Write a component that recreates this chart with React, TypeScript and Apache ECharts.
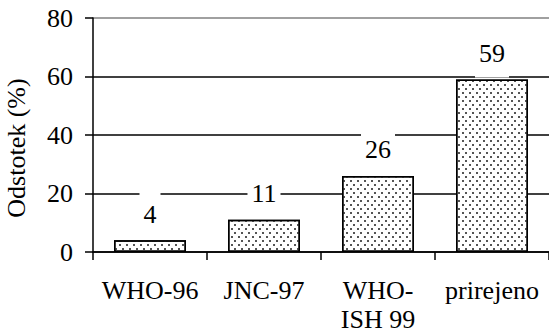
import React, { useEffect, useRef } from "react";
import * as echarts from "echarts";

const categories = ["WHO-96", "JNC-97", "WHO-\nISH 99", "prirejeno"];
const values = [4, 11, 26, 59];
const yTicks = { min: 0, max: 80, interval: 20 };
const yAxisName = "Odstotek (%)";

const FONT = "Liberation Serif";
const FS = 26;

export default function App() {
  const ref = useRef<HTMLDivElement>(null);
  useEffect(() => {
    if (!ref.current) return;
    const chart = echarts.init(ref.current, null, { renderer: "svg" });
    chart.setOption({
      animation: false,
      backgroundColor: "#fff",
      textStyle: { fontFamily: FONT, color: "#000" },
      grid: {
        left: 93,
        right: 0,
        top: 18,
        bottom: 82,
        containLabel: false,
        outerBoundsMode: "none",
      },
      xAxis: {
        type: "category",
        data: categories,
        boundaryGap: true,
        axisLine: { show: true, lineStyle: { color: "#000", width: 1.5 } },
        axisTick: { show: true, length: 8, inside: false, lineStyle: { color: "#000", width: 1.5 } },
        axisLabel: {
          interval: 0,
          margin: 24,
          fontFamily: FONT,
          fontSize: FS,
          lineHeight: 29,
          color: "#000",
        },
        splitLine: { show: false },
      },
      yAxis: {
        type: "value",
        min: yTicks.min,
        max: yTicks.max,
        interval: yTicks.interval,
        name: yAxisName,
        nameLocation: "middle",
        nameGap: 64,
        nameTextStyle: { fontFamily: FONT, fontSize: FS, color: "#000", padding: [0, 26, 0, 0] },
        axisLine: { show: true, lineStyle: { color: "#000", width: 1.5 } },
        axisTick: { show: true, length: 8, inside: false, lineStyle: { color: "#000", width: 1.5 } },
        axisLabel: { margin: 20, fontFamily: FONT, fontSize: FS, color: "#000" },
        splitLine: {
          show: true,
          lineStyle: { color: ["#000", "#000", "#000", "#000", "#808080"], width: 1.5 },
        },
      },
      series: [
        {
          type: "bar",
          data: values,
          barWidth: 72,
          itemStyle: {
            color: "#fff",
            borderColor: "#000",
            borderWidth: 1.5,
            decal: {
              symbol: "rect",
              symbolSize: 1,
              color: "#555",
              dashArrayX: [[1.5, 4.5], [0, 3, 1.5, 1.5]],
              dashArrayY: [1.5, 1.5],
              rotation: 0,
            },
          },
          label: {
            show: true,
            position: "top",
            distance: 2,
            fontFamily: FONT,
            fontSize: FS,
            color: "#000",
            backgroundColor: "#fff",
            padding: [10, 4, 11, 4],
          },
        },
      ],
    });
    return () => chart.dispose();
  }, []);
  return (
    <div
      ref={ref}
      style={{ position: "fixed", left: 0, top: 0, width: 549, height: 334 }}
    />
  );
}
